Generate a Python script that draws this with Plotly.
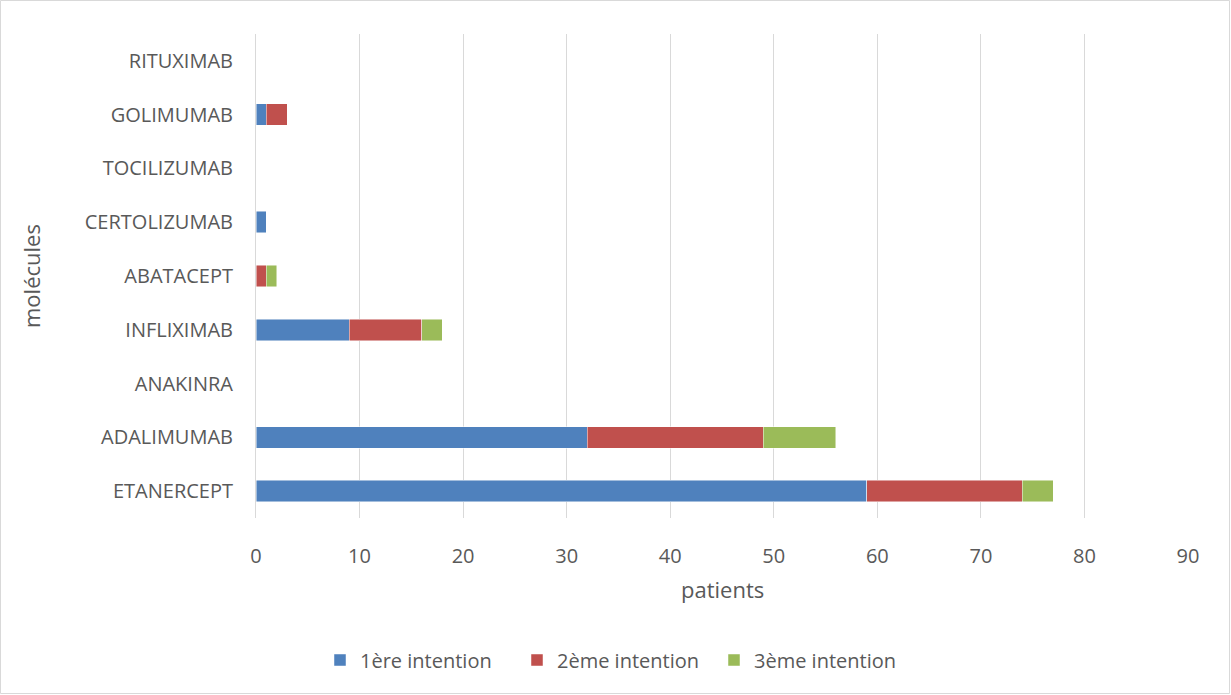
import plotly.graph_objects as go

categories = ["ETANERCEPT", "ADALIMUMAB", "ANAKINRA", "INFLIXIMAB", "ABATACEPT",
              "CERTOLIZUMAB", "TOCILIZUMAB", "GOLIMUMAB", "RITUXIMAB"]
first_line = [59, 32, 0, 9, 0, 1, 0, 1, 0]
second_line = [15, 17, 0, 7, 1, 0, 0, 2, 0]
third_line = [3, 7, 0, 2, 1, 0, 0, 0, 0]
series_names = ["1ère intention", "2ème intention", "3ème intention"]
colors = ["#4f81bd", "#c0504d", "#9bbb59"]
x_ticks = [0, 10, 20, 30, 40, 50, 60, 70, 80, 90]

FONT = "Open Sans"
TXT = "#595959"

fig = go.Figure()
for name, vals, col in zip(series_names, [first_line, second_line, third_line], colors):
    fig.add_trace(go.Bar(
        y=categories, x=vals, name=name, orientation="h",
        marker=dict(color=col, line=dict(color="rgba(255,255,255,0.6)", width=0.8)),
    ))

W, H = 1231, 695
ml, mr, mt, mb = 256, 43, 34, 177
pw, ph = W - ml - mr, H - mt - mb

fig.update_layout(
    width=W, height=H,
    barmode="stack", bargap=0.6,
    margin=dict(l=ml, r=mr, t=mt, b=mb, autoexpand=False),
    paper_bgcolor="white", plot_bgcolor="white",
    font=dict(family=FONT, color=TXT, size=20),
    showlegend=True,
    legend=dict(orientation="h", xref="container", yref="container",
                x=0.5, xanchor="center", y=1 - 660 / H, yanchor="middle",
                font=dict(size=20, color=TXT), traceorder="normal",
                entrywidth=152, bgcolor="rgba(0,0,0,0)"),
    xaxis=dict(range=[0, 90], tickvals=x_ticks, showgrid=True, gridcolor="#d9d9d9",
               gridwidth=1, zeroline=False, showline=False,
               ticks="outside", ticklen=20, tickcolor="rgba(0,0,0,0)",
               tickfont=dict(size=20, color=TXT)),
    yaxis=dict(categoryorder="array", categoryarray=categories,
               showgrid=False, zeroline=False, showline=True, linecolor="#d9d9d9",
               linewidth=1, ticks="outside", ticklen=18, tickcolor="rgba(0,0,0,0)",
               tickfont=dict(size=20, color=TXT)),
    annotations=[
        dict(text="patients", xref="paper", yref="paper", x=0.5,
             y=-(589 - (mt + ph)) / ph, showarrow=False, font=dict(size=22, color=TXT),
             xanchor="center", yanchor="middle"),
        dict(text="molécules", xref="paper", yref="paper",
             x=-(ml - 31) / pw, y=0.5, textangle=-90, showarrow=False,
             font=dict(size=22, color=TXT), xanchor="center", yanchor="middle"),
    ],
    shapes=[dict(type="rect", xref="paper", yref="paper",
                 x0=-(ml - 0.5) / pw, x1=(W - ml - 1.5) / pw,
                 y0=-(mb - 1.5) / ph, y1=(ph + mt - 0.5) / ph,
                 line=dict(color="#d9d9d9", width=1), fillcolor="rgba(0,0,0,0)",
                 layer="below")],
)

fig.write_html("out.html", config={"displayModeBar": False},
               post_script="document.body.style.margin='0';document.body.style.padding='0';")
